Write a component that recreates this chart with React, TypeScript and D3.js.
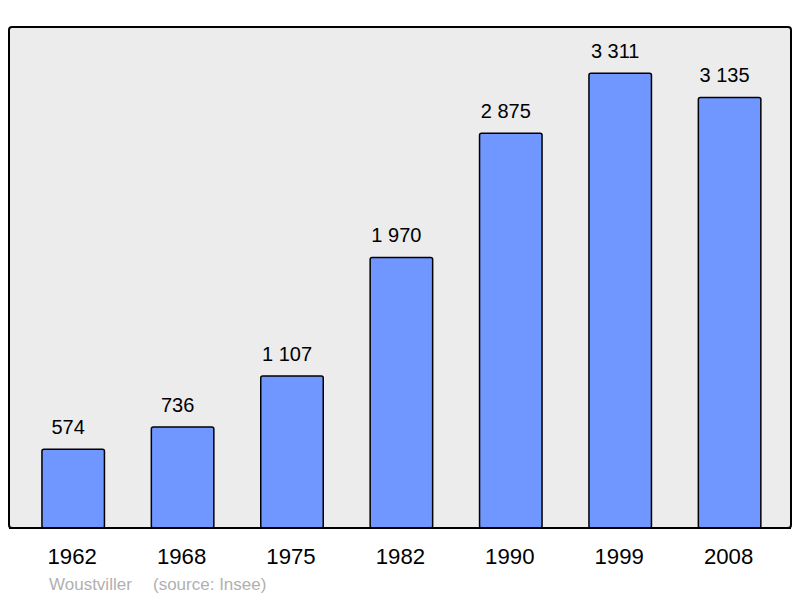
import React from 'react';
import * as d3 from 'd3';

const years = ['1962', '1968', '1975', '1982', '1990', '1999', '2008'];
const population = [574, 736, 1107, 1970, 2875, 3311, 3135];
const commune = 'Woustviller';
const source = '(source: Insee)';

const width = 800;
const height = 598;
const frame = { left: 9, top: 27, right: 791, bottom: 528 };

const fmt = (v: number) => d3.format(',')(v).replace(/,/g, ' ');

export default function App() {
  const x = d3
    .scaleBand<string>()
    .domain(years)
    .range([18.5, 784.3])
    .paddingInner(0.4287)
    .paddingOuter(0.2143);

  const y = d3.scaleLinear().domain([0, 3311]).range([frame.bottom, 73.3]);

  return (
    <svg
      width={width}
      height={height}
      style={{ position: 'absolute', left: 0, top: 0, fontFamily: '"Liberation Sans", Arial, sans-serif' }}
    >
      <rect x={0} y={0} width={width} height={height} fill="#ffffff" />
      <rect
        x={frame.left}
        y={frame.top}
        width={frame.right - frame.left}
        height={frame.bottom - frame.top}
        rx={3}
        fill="#ececec"
        stroke="#000"
        strokeWidth={2}
      />
      {years.map((yr, i) => {
        const v = population[i];
        const bx = x(yr) ?? 0;
        const cx = bx + x.bandwidth() / 2;
        return (
          <g key={yr}>
            <rect
              x={bx}
              y={y(v)}
              width={x.bandwidth()}
              height={frame.bottom - y(v)}
              rx={2}
              fill="#7097ff"
              stroke="#000"
              strokeWidth={1.5}
            />
            {/* value labels sit a little left of the bar centre, as in the source */}
            <text x={cx - 5} y={y(v) - 15} textAnchor="middle" fontSize={20} fill="#000">
              {fmt(v)}
            </text>
            <text x={cx - 1} y={564} textAnchor="middle" fontSize={22.2} fill="#000">
              {yr}
            </text>
          </g>
        );
      })}
      <rect x={frame.left} y={frame.bottom - 1} width={frame.right - frame.left} height={2} fill="#000" />
      <text x={49} y={590} fontSize={17} fill="#b0b0b0">
        {commune}
      </text>
      <text x={153} y={590} fontSize={17} fill="#b0b0b0">
        {source}
      </text>
    </svg>
  );
}
